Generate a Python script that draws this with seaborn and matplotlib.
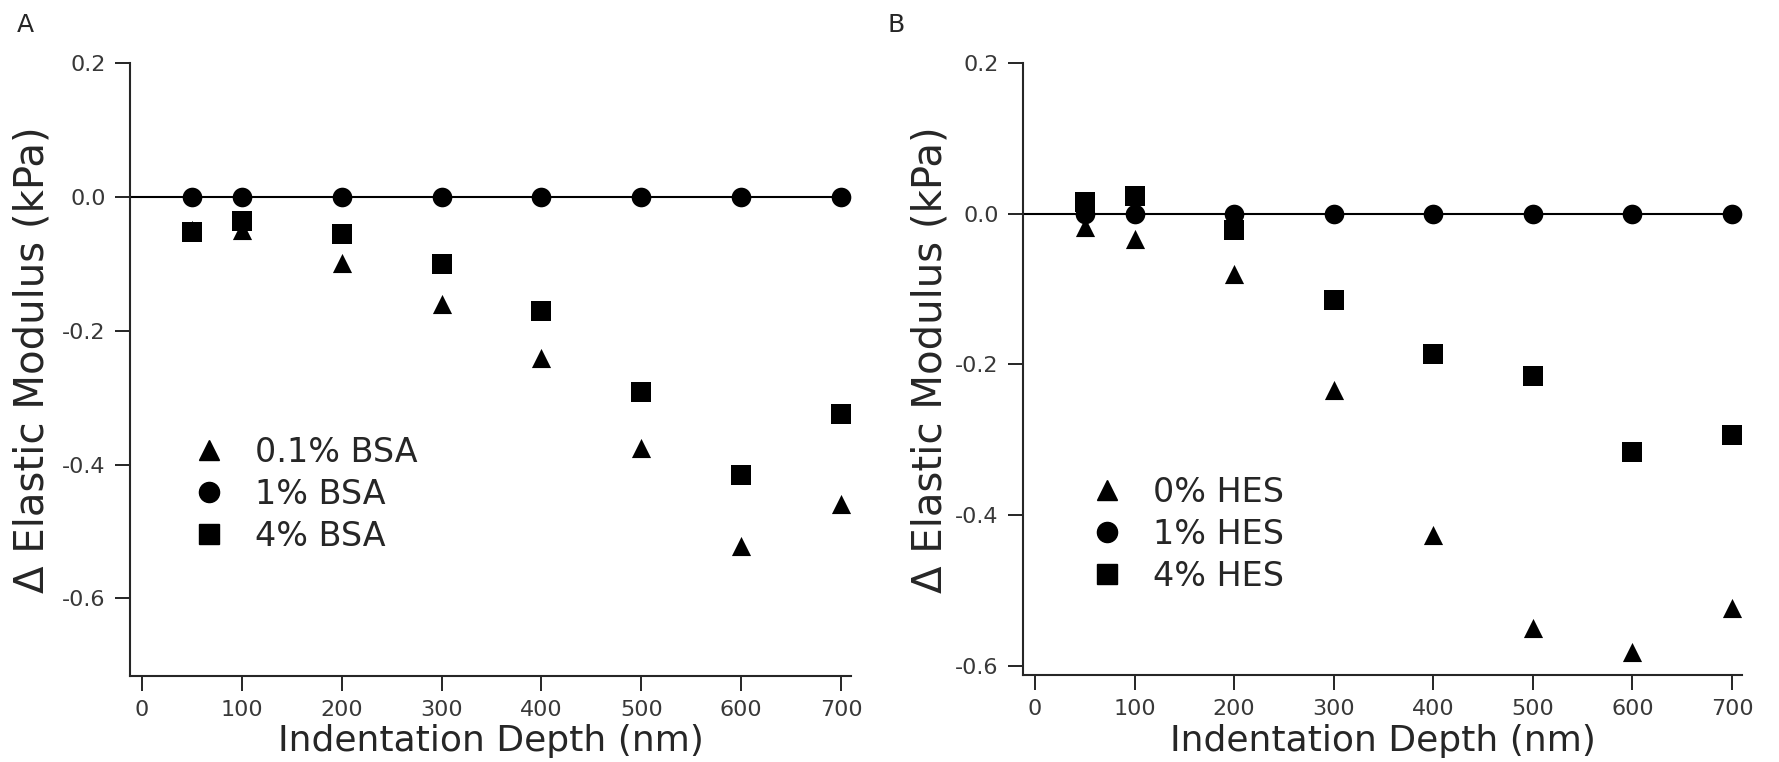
import matplotlib
matplotlib.use("Agg")
import matplotlib.pyplot as plt
import matplotlib.transforms as mtransforms
import seaborn as sns
import pandas as pd

depth = [50, 100, 200, 300, 400, 500, 600, 700]

# Panel A (BSA)
labels_a = ["0.1% BSA", "1% BSA", "4% BSA"]
bsa_01 = [-0.05, -0.05, -0.099, -0.16, -0.241, -0.376, -0.521, -0.459]
bsa_1 = [0.0, 0.0, 0.0, 0.0, 0.0, 0.0, 0.0, 0.0]
bsa_4 = [-0.052, -0.036, -0.056, -0.101, -0.17, -0.292, -0.415, -0.325]

# Panel B (HES)
labels_b = ["0% HES", "1% HES", "4% HES"]
hes_0 = [-0.018, -0.034, -0.08, -0.234, -0.426, -0.55, -0.582, -0.523]
hes_1 = [0.0, 0.0, 0.0, 0.0, 0.0, 0.0, 0.0, 0.0]
hes_4 = [0.016, 0.023, -0.021, -0.114, -0.186, -0.215, -0.316, -0.293]

xticks = [0, 100, 200, 300, 400, 500, 600, 700]
yticks = [0.2, 0.0, -0.2, -0.4, -0.6]
xlabel = "Indentation Depth (nm)"
ylabel = "\u0394 Elastic Modulus (kPa)"

sns.set_style("ticks")
plt.rcParams["font.family"] = ["DejaVu Sans"]
plt.rcParams["axes.unicode_minus"] = False

W, H = 1779, 762
fig = plt.figure(figsize=(W / 100, H / 100), dpi=100)
axA = fig.add_axes([130 / W, 1 - 676 / H, (851 - 130) / W, (676 - 63) / H])
axB = fig.add_axes([1023 / W, 1 - 675 / H, (1742 - 1023) / W, (675 - 63) / H])

markers = ["^", "o", "s"]
sizes = [190, 200, 190]

def draw(ax, series, labels, ylim, leg_pos, ylab_x):
    ax.axhline(0, color="black", lw=1.5, zorder=1)
    handles = []
    for vals, lab, m, s in zip(series, labels, markers, sizes):
        df = pd.DataFrame({"depth": depth, "val": vals})
        sns.scatterplot(data=df, x="depth", y="val", marker=m, s=s,
                        color="black", edgecolor="black", linewidth=0,
                        ax=ax, zorder=3, legend=False)
        handles.append(plt.Line2D([], [], ls="none", marker=m, color="black",
                                  markersize=14.5, label=lab))
    ax.set_xlim(-12, 710)
    ax.set_ylim(*ylim)
    ax.set_xticks(xticks)
    ax.set_xticklabels([str(t) for t in xticks])
    ax.set_yticks(yticks)
    ax.set_yticklabels([f"{t:.1f}" for t in yticks])
    ax.tick_params(axis="both", labelsize=16, labelcolor="#383838",
                   direction="out", length=11, width=1.2, color="black",
                   pad=6.5)
    ax.set_xlabel(xlabel, fontsize=26)
    ax.set_ylabel(ylabel, fontsize=29)
    tr = mtransforms.blended_transform_factory(ax.transAxes, fig.transFigure)
    ax.xaxis.set_label_coords(0.5, 1 - 751 / H, transform=tr)
    ax.xaxis.label.set_va("baseline")
    ax.yaxis.set_label_coords(ylab_x / W, 1 - 360 / H, transform=fig.transFigure)
    for sp in ["top", "right"]:
        ax.spines[sp].set_visible(False)
    for sp in ["left", "bottom"]:
        ax.spines[sp].set_linewidth(1.5)
    ax.legend(handles=handles, loc="upper left", bbox_to_anchor=leg_pos,
              bbox_transform=fig.transFigure, frameon=False, fontsize=24,
              handletextpad=0.9, labelspacing=0.27, handlelength=1.0,
              borderaxespad=0, borderpad=0)

draw(axA, [bsa_01, bsa_1, bsa_4], labels_a, (-0.716, 0.2),
     (192 / W, 1 - 436 / H), 53)
draw(axB, [hes_0, hes_1, hes_4], labels_b, (-0.612, 0.2),
     (1090 / W, 1 - 476 / H), 951)

fig.text(17 / W, 1 - 25 / H, "A", fontsize=18, va="center", ha="left")
fig.text(888 / W, 1 - 25 / H, "B", fontsize=18, va="center", ha="left")

fig.savefig("out.png", dpi=100)
